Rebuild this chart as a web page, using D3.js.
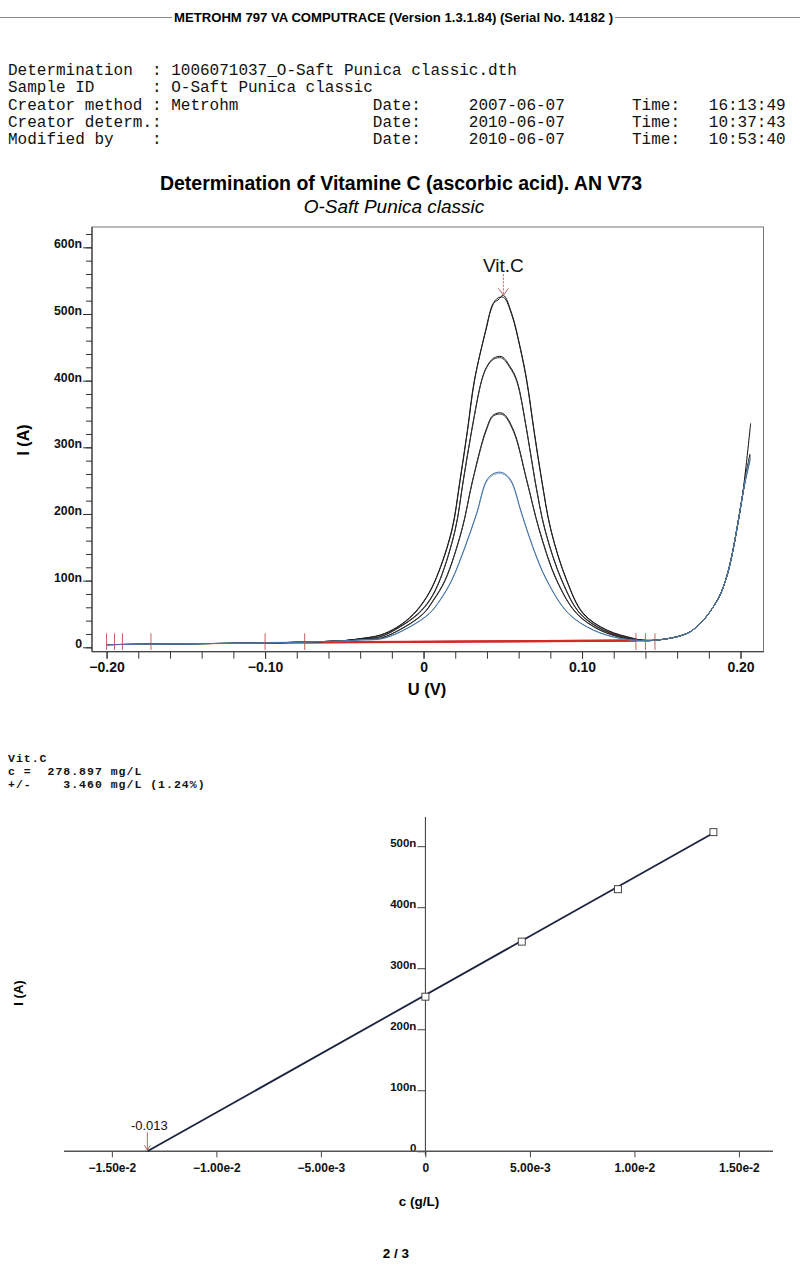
<!DOCTYPE html>
<html>
<head>
<meta charset="utf-8">
<script src="https://cdn.jsdelivr.net/npm/d3@7"></script>
<style>
body { margin: 0; background: #fff; }
svg { display: block; }
.mono { font-family: "Liberation Mono", "Courier New", monospace; }
.sans { font-family: "Liberation Sans", Arial, sans-serif; }
</style>
</head>
<body>
<svg id="drawing_region"></svg>
<script>

// ---- header / info block ----
const headerText = "METROHM 797 VA COMPUTRACE (Version 1.3.1.84) (Serial No. 14182 )";
const infoLabels = ["Determination", "Sample ID", "Creator method", "Creator determ.", "Modified by"];
const infoValues = ["1006071037_O-Saft Punica classic.dth", "O-Saft Punica classic", "Metrohm", "", ""];
const infoDates  = ["", "", "2007-06-07", "2010-06-07", "2010-06-07"];
const infoTimes  = ["", "", "16:13:49", "10:37:43", "10:53:40"];

// ---- voltammogram (U in V, I in nA) ----
const leftTail = [[-0.2,4],[-0.18,4.5],[-0.16,5],[-0.14,5.5],[-0.12,6],[-0.1,6.5],[-0.08,7.5],[-0.065,8.5]];
const rightTail = [[0.14,10],[0.1513,12],[0.1618,17],[0.1681,23],[0.1724,31],[0.1776,43.5],[0.1829,61],
    [0.1871,78.5],[0.1913,106],[0.1944,136],[0.1976,176],[0.2008,221]];

const A1 = [[-0.05,10],[-0.04,13],[-0.0274,18.4],[-0.0169,30],[-0.0064,50],[0.002,76],[0.0083,106],[0.0178,176],
    [0.023,251],[0.0277,326],[0.0321,401],[0.0394,476],[0.044,516],[0.047,521],[0.0504,528],[0.0556,501],[0.0609,451],
    [0.0651,401],[0.0697,326],[0.0746,251],[0.0804,176],[0.0903,101],[0.1008,51],[0.1156,26],[0.1324,13.5]];
const A2 = [[-0.05,10],[-0.04,12.8],[-0.0274,18],[-0.0169,29.5],[-0.0064,49],[0.002,75],[0.0083,105],[0.0178,174],
    [0.023,249],[0.0277,324],[0.0321,399],[0.0394,478],[0.0425,506],[0.0462,523],[0.0504,525],[0.0556,499],[0.0609,449],
    [0.0651,399],[0.0697,324],[0.0746,249],[0.0804,175],[0.0903,100],[0.1008,50],[0.1156,25.5],[0.1324,13]];
const B1 = [[-0.05,10],[-0.04,12.5],[-0.0274,16],[-0.0148,31],[-0.0033,51],[0.0041,72],[0.0104,102],[0.0199,176],
    [0.0251,251],[0.0304,326],[0.0367,401],[0.0399,421],[0.0441,433.5],[0.0493,436],[0.0546,421],[0.0588,401],
    [0.0651,326],[0.0703,251],[0.0767,176],[0.0872,101],[0.0987,51],[0.1135,26],[0.13,13]];
const B2 = [[-0.05,10],[-0.04,12.3],[-0.0274,15.6],[-0.0148,30.5],[-0.0033,50],[0.0041,71],[0.0104,101],[0.0199,175],
    [0.0251,250],[0.0304,325],[0.0367,400],[0.0399,420],[0.0441,432],[0.0493,434],[0.0546,419],[0.0588,399],
    [0.0651,325],[0.0703,250],[0.0767,175],[0.0872,100],[0.0987,50.5],[0.1135,25.5],[0.13,13]];
const C1 = [[-0.05,10],[-0.04,12],[-0.0274,13.5],[-0.0117,31],[0,51],[0.0062,71],[0.0136,101],[0.0241,176],
    [0.031,251],[0.0394,326],[0.0441,348.5],[0.0499,351],[0.0567,326],[0.0651,251],[0.0731,176],[0.084,101],
    [0.0966,51],[0.1114,26],[0.128,13]];
const C2 = [[-0.05,10],[-0.04,11.8],[-0.0274,13.3],[-0.0117,30.5],[0,50.5],[0.0062,70],[0.0136,100],[0.0241,175],
    [0.031,250],[0.0394,324],[0.0441,347],[0.0499,349],[0.0567,324],[0.0651,250],[0.0731,175],[0.084,100],
    [0.0966,50.5],[0.1114,25.5],[0.128,13]];
const D1 = [[-0.05,9.5],[-0.04,11],[-0.0253,13.5],[-0.0085,31],[0.0037,51],[0.0104,71],[0.0178,101],[0.0262,151],
    [0.0335,201],[0.0399,251],[0.0445,261],[0.0499,262],[0.055,251],[0.0619,201],[0.0689,151],[0.0777,101],
    [0.0914,51],[0.1071,26],[0.124,13.5]];
const D2 = [[-0.05,9.5],[-0.04,10.8],[-0.0253,13.2],[-0.0085,30.5],[0.0037,50.5],[0.0104,70],[0.0178,100],[0.0262,150],
    [0.0335,200],[0.0399,249],[0.0445,259],[0.0499,260],[0.055,249],[0.0619,200],[0.0689,150],[0.0777,100],
    [0.0914,50.5],[0.1071,25.5],[0.124,13.2]];

// end of each scan (one replicate runs higher)
const endA1 = [[0.2033,268],[0.2064,336]];
const endA2 = [[0.2033,256],[0.206,286]];
const endB1 = [[0.2033,258],[0.206,290]];
const endB2 = [[0.2033,254],[0.206,282]];
const endC1 = [[0.2033,255],[0.206,284]];
const endC2 = [[0.2033,257],[0.206,288]];
const endD1 = [[0.2033,252],[0.206,280]];
const endD2 = [[0.2033,255],[0.206,285]];

const baseLines = [[[-0.075,7.2],[0.139,10]], [[-0.075,7.8],[0.146,10.6]], [[-0.1,6.5],[0.134,9.6]], [[-0.1,6.9],[0.14,11]]];
const baseMarkers = [-0.2, -0.195, -0.19, -0.172, -0.1, -0.075, 0.134, 0.14, 0.146];
const peakName = "Vit.C";
const peakU = 0.0504, peakI = 528;

const uTicksMajor = [-0.2, -0.1, 0, 0.1, 0.2];
const uTicksMinor = d3.range(-20, 21, 2).map(d => d / 100);
const iTicksMajor = [0, 100, 200, 300, 400, 500, 600];
const iTicksMinor = d3.range(0, 621, 20);

// ---- calibration (standard addition) ----
const calC = [0, 0.00461, 0.00921, 0.01378];
const calI = [253.4, 343.6, 429.5, 523];
const fitLine = [[-0.0133, 0], [0.0138, 522]];
const xIntercept = -0.0133, xInterceptLabel = "-0.013";
const cTicks = [-0.015, -0.01, -0.005, 0, 0.005, 0.01, 0.015];
const calITicks = [0, 100, 200, 300, 400, 500];
const resultLines = ["Vit.C", "c =  278.897 mg/L", "+/-    3.460 mg/L (1.24%)"];


const W = 800, H = 1265;
const svg = d3.select('#drawing_region').attr('width', W).attr('height', H);

// header line
svg.append('line').attr('x1', 0).attr('x2', 172).attr('y1', 17.5).attr('y2', 17.5).attr('stroke', '#888');
svg.append('line').attr('x1', 615).attr('x2', 800).attr('y1', 17.5).attr('y2', 17.5).attr('stroke', '#888');
svg.append('text').attr('class', 'sans').attr('x', 174).attr('y', 22)
    .attr('font-size', 13).attr('font-weight', 'bold')
    .attr('textLength', 439).attr('lengthAdjust', 'spacingAndGlyphs')
    .text(headerText);

// info block, fixed columns of a monospace font
const cw = 9.6, x0 = 8;
const col = i => x0 + i * cw;
const info = svg.append('g').attr('class', 'mono').attr('font-size', 16).attr('fill', '#111');
infoLabels.forEach((lab, i) => {
    const y = 75 + i * 17.3;
    info.append('text').attr('x', col(0)).attr('y', y).text(lab);
    info.append('text').attr('x', col(15)).attr('y', y).text(':');
    if (infoValues[i]) info.append('text').attr('x', col(17)).attr('y', y).text(infoValues[i]);
    if (infoDates[i]) {
        info.append('text').attr('x', col(38)).attr('y', y).text('Date:');
        info.append('text').attr('x', col(48)).attr('y', y).text(infoDates[i]);
        info.append('text').attr('x', col(65)).attr('y', y).text('Time:');
        info.append('text').attr('x', col(73)).attr('y', y).text(infoTimes[i]);
    }
});

// titles
svg.append('text').attr('class', 'sans').attr('x', 401).attr('y', 190)
    .attr('text-anchor', 'middle').attr('font-size', 19.5).attr('font-weight', 'bold')
    .text("Determination of Vitamine C (ascorbic acid). AN V73");
svg.append('text').attr('class', 'sans').attr('x', 394).attr('y', 213)
    .attr('text-anchor', 'middle').attr('font-size', 19).attr('font-style', 'italic')
    .text(infoValues[1]);

// ---------------- top chart ----------------
const xU = d3.scaleLinear().domain([-0.2092, 0.2145]).range([92, 763.5]);
const yI = d3.scaleLinear().domain([-6.6, 630.5]).range([651.7, 227]);

const plot = svg.append('g');

// frame
plot.append('rect')
    .attr('x', xU.range()[0]).attr('y', yI.range()[1])
    .attr('width', xU.range()[1] - xU.range()[0]).attr('height', yI.range()[0] - yI.range()[1])
    .attr('fill', 'none').attr('stroke', '#777').attr('stroke-width', 1);

// y axis
const yMinorG = plot.append('g').attr('transform', `translate(${xU.range()[0]},0)`)
    .call(d3.axisLeft(yI).tickValues(iTicksMinor).tickSize(6).tickFormat(''));
const yMajorG = plot.append('g').attr('transform', `translate(${xU.range()[0]},0)`)
    .call(d3.axisLeft(yI).tickValues(iTicksMajor).tickSize(9).tickPadding(1)
        .tickFormat(d => d === 0 ? '0' : d + 'n'));
yMajorG.selectAll('text').attr('dy', '0.05em')
    .attr('font-family', '"Liberation Sans", Arial, sans-serif').attr('font-size', 12.3).attr('font-weight', 'bold').attr('fill', '#111');

// x axis
const xMinorG = plot.append('g').attr('transform', `translate(0,${yI.range()[0]})`)
    .call(d3.axisBottom(xU).tickValues(uTicksMinor).tickSize(7).tickFormat(''));
const xMajorG = plot.append('g').attr('transform', `translate(0,${yI.range()[0]})`)
    .call(d3.axisBottom(xU).tickValues(uTicksMajor).tickSize(7)
        .tickFormat(d => d === 0 ? '0' : d3.format('.2f')(d)));
xMajorG.selectAll('text').attr('y', 20).attr('dy', 0)
    .attr('font-family', '"Liberation Sans", Arial, sans-serif').attr('font-size', 14).attr('font-weight', 'bold').attr('fill', '#111');

[yMinorG, yMajorG, xMinorG, xMajorG].forEach(g => {
    g.select('.domain').remove();
    g.selectAll('line').attr('stroke', '#333');
});
plot.append('line').attr('x1', xU.range()[0]).attr('x2', xU.range()[0])
    .attr('y1', yI.range()[1]).attr('y2', yI.range()[0]).attr('stroke', '#222');
plot.append('line').attr('x1', xU.range()[0]).attr('x2', xU.range()[1])
    .attr('y1', yI.range()[0]).attr('y2', yI.range()[0]).attr('stroke', '#444').attr('stroke-width', 1.3);

// axis titles
svg.append('text').attr('class', 'sans').attr('transform', 'translate(29,440) rotate(-90)')
    .attr('text-anchor', 'middle').attr('font-size', 16).attr('font-weight', 'bold').text('I (A)');
svg.append('text').attr('class', 'sans').attr('x', 427).attr('y', 695)
    .attr('text-anchor', 'middle').attr('font-size', 16.5).attr('font-weight', 'bold').text('U (V)');

// red baselines (under the scans)
const lineUI = d3.line().x(d => xU(d[0])).y(d => yI(d[1]));
plot.selectAll('path.base').data(baseLines).enter().append('path')
    .attr('class', 'base').attr('d', lineUI)
    .attr('fill', 'none').attr('stroke', '#d42a2a').attr('stroke-width', 1.6);

// scans
const scans = [
    { pts: [...leftTail, ...A1, ...rightTail, ...endA1], color: '#111' },
    { pts: [...leftTail, ...A2, ...rightTail, ...endA2], color: '#222' },
    { pts: [...leftTail, ...B1, ...rightTail, ...endB1], color: '#111' },
    { pts: [...leftTail, ...B2, ...rightTail, ...endB2], color: '#333' },
    { pts: [...leftTail, ...C1, ...rightTail, ...endC1], color: '#111' },
    { pts: [...leftTail, ...C2, ...rightTail, ...endC2], color: '#333' },
    { pts: [...leftTail, ...D2, ...rightTail, ...endD2], color: '#8fa9c6' },
    { pts: [...leftTail, ...D1, ...rightTail, ...endD1], color: '#3d6fa6' }
];
const scanLine = d3.line().x(d => xU(d[0])).y(d => yI(d[1])).curve(d3.curveCatmullRom.alpha(0.5));
plot.selectAll('path.scan').data(scans).enter().append('path')
    .attr('class', 'scan').attr('d', d => scanLine(d.pts))
    .attr('fill', 'none').attr('stroke', d => d.color).attr('stroke-width', 1);

// baseline markers
plot.selectAll('line.mark').data(baseMarkers).enter().append('line')
    .attr('class', 'mark')
    .attr('x1', d => xU(d)).attr('x2', d => xU(d))
    .attr('y1', yI(-4)).attr('y2', yI(21))
    .attr('stroke', '#c0504d').attr('stroke-width', 0.9);

// peak marker
const px = xU(peakU), py = yI(peakI);
plot.append('line').attr('x1', px).attr('x2', px).attr('y1', py - 21).attr('y2', py - 1)
    .attr('stroke', '#c0504d').attr('stroke-width', 0.9).attr('stroke-dasharray', '2,1.5');
plot.append('path').attr('d', `M${px - 5},${py - 7}L${px},${py}L${px + 5},${py - 7}`)
    .attr('fill', 'none').attr('stroke', '#c0504d').attr('stroke-width', 0.9);
plot.append('text').attr('class', 'sans').attr('x', px).attr('y', py - 23)
    .attr('text-anchor', 'middle').attr('font-size', 19).attr('fill', '#111').text(peakName);

// ---------------- result text ----------------
const res = svg.append('g').attr('class', 'mono').attr('font-size', 11.5).attr('font-weight', 'bold')
    .attr('letter-spacing', 1).attr('fill', '#111');
resultLines.forEach((t, i) => {
    res.append('text').attr('x', 8).attr('y', 762 + i * 13)
        .style('white-space', 'pre').text(t);
});

// ---------------- calibration chart ----------------
const xC = d3.scaleLinear().domain([-0.01729, 0.01663]).range([64, 773]);
const yC = d3.scaleLinear().domain([0, 548]).range([1151.3, 816.9]);
const cal = svg.append('g');

const cyG = cal.append('g').attr('transform', `translate(${xC(0)},0)`)
    .call(d3.axisLeft(yC).tickValues(calITicks).tickSize(8).tickPadding(1)
        .tickFormat(d => d === 0 ? '0' : d + 'n'));
cyG.selectAll('text').attr('dy', '0.05em')
    .attr('font-family', '"Liberation Sans", Arial, sans-serif').attr('font-size', 11.5).attr('font-weight', 'bold').attr('fill', '#111');
const cxG = cal.append('g').attr('transform', `translate(0,${yC(0)})`)
    .call(d3.axisBottom(xC).tickValues(cTicks).tickSize(6)
        .tickFormat(d => d === 0 ? '0' : d3.format('.2e')(d)));
cxG.selectAll('text').attr('y', 21).attr('dy', 0)
    .attr('font-family', '"Liberation Sans", Arial, sans-serif').attr('font-size', 12).attr('font-weight', 'bold').attr('fill', '#111');
[cyG, cxG].forEach(g => {
    g.select('.domain').remove();
    g.selectAll('line').attr('stroke', '#444');
});
cal.append('line').attr('x1', xC(0)).attr('x2', xC(0))
    .attr('y1', yC.range()[1]).attr('y2', yC(0) + 4).attr('stroke', '#333');
cal.append('line').attr('x1', xC.range()[0]).attr('x2', xC.range()[1])
    .attr('y1', yC(0)).attr('y2', yC(0)).attr('stroke', '#555').attr('stroke-width', 1.4);

svg.append('text').attr('class', 'sans').attr('transform', 'translate(23,993) rotate(-90)')
    .attr('text-anchor', 'middle').attr('font-size', 13).attr('font-weight', 'bold').text('I (A)');
svg.append('text').attr('class', 'sans').attr('x', 419).attr('y', 1206)
    .attr('text-anchor', 'middle').attr('font-size', 13.5).attr('font-weight', 'bold').text('c (g/L)');

// regression line and points
const lineC = d3.line().x(d => xC(d[0])).y(d => yC(d[1]));
cal.append('path').attr('d', lineC(fitLine))
    .attr('fill', 'none').attr('stroke', '#1c2340').attr('stroke-width', 1.8);
cal.selectAll('rect.pt').data(calC.map((c, i) => [c, calI[i]])).enter().append('rect')
    .attr('class', 'pt')
    .attr('x', d => xC(d[0]) - 3.5).attr('y', d => yC(d[1]) - 3.5)
    .attr('width', 7).attr('height', 7)
    .attr('fill', '#fff').attr('stroke', '#333').attr('stroke-width', 0.9);

// x-intercept marker
const ix = xC(xIntercept);
cal.append('line').attr('x1', ix).attr('x2', ix).attr('y1', yC(0) - 19).attr('y2', yC(0) - 1)
    .attr('stroke', '#c0504d').attr('stroke-width', 0.9);
cal.append('path').attr('d', `M${ix - 3},${yC(0) - 6}L${ix},${yC(0) - 1}L${ix + 3},${yC(0) - 6}`)
    .attr('fill', 'none').attr('stroke', '#c0504d').attr('stroke-width', 0.9);
cal.append('text').attr('class', 'sans').attr('x', ix + 2).attr('y', 1130)
    .attr('text-anchor', 'middle').attr('font-size', 13).attr('fill', '#111').text(xInterceptLabel);

// page number
svg.append('text').attr('class', 'sans').attr('x', 396).attr('y', 1258)
    .attr('text-anchor', 'middle').attr('font-size', 13.5).attr('font-weight', 'bold').text('2 / 3');

</script>
</body>
</html>
